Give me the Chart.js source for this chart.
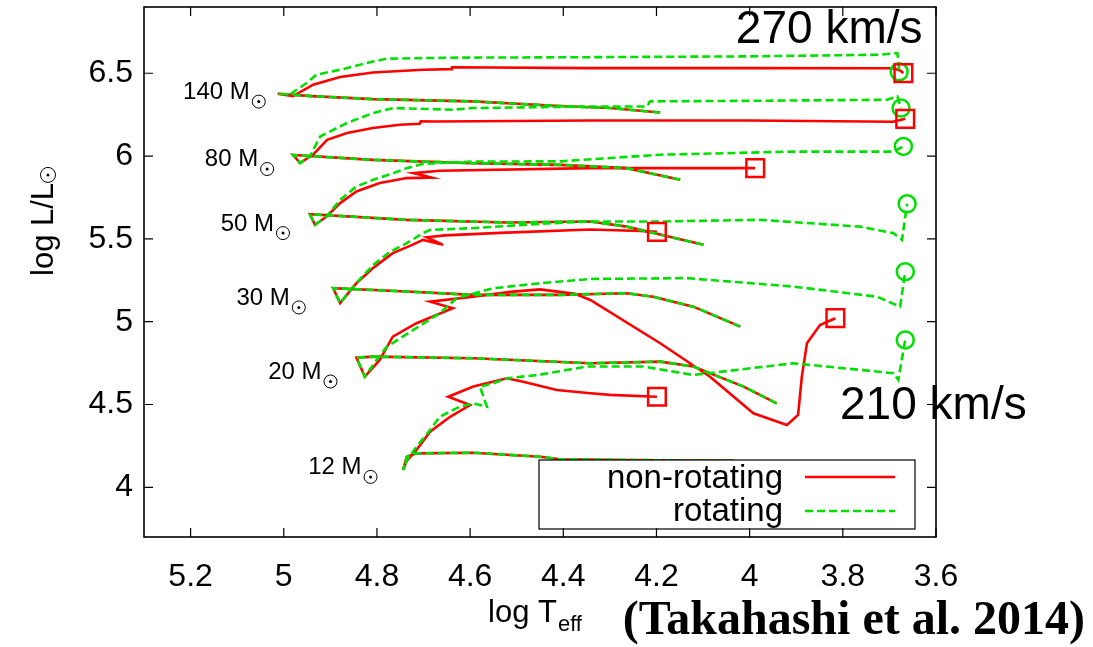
<!DOCTYPE html>
<html>
<head>
<meta charset="utf-8">
<title>HR diagram</title>
<script src="https://cdn.jsdelivr.net/npm/chart.js@4.4.1/dist/chart.umd.min.js"></script>
<style>
  html, body { margin: 0; padding: 0; background: #fff; }
  canvas { display: block; }
</style>
</head>
<body>
<canvas id="hr" width="1093" height="647"></canvas>
<script>
// tick labels
const xTicks = [5.2, 5, 4.8, 4.6, 4.4, 4.2, 4, 3.8, 3.6]
const yTicks = [4, 4.5, 5, 5.5, 6, 6.5]

const masses = ['140', '80', '50', '30', '20', '12']
const seriesNames = ['non-rotating', 'rotating']
const speeds = ['270 km/s', '210 km/s']

// [log Teff, log L]
// contraction branch shared by both models, from its cool end to the ZAMS
const preMS140 = [[4.192, 6.263], [4.300, 6.290], [4.407, 6.302], [4.594, 6.330], [4.809, 6.344], [4.940, 6.362], [5.013, 6.376]]
const preMS80 = [[4.149, 5.857], [4.264, 5.927], [4.407, 5.947], [4.594, 5.957], [4.809, 5.977], [4.980, 6.006]]
const preMS50 = [[4.099, 5.464], [4.264, 5.574], [4.342, 5.605], [4.521, 5.599], [4.736, 5.615], [4.944, 5.649]]
const preMS30 = [[4.020, 4.970], [4.121, 5.091], [4.207, 5.151], [4.264, 5.172], [4.407, 5.162], [4.593, 5.162], [4.736, 5.182], [4.894, 5.202]]
const preMS20 = [[3.942, 4.507], [4.013, 4.608], [4.121, 4.729], [4.192, 4.759], [4.342, 4.749], [4.593, 4.779], [4.808, 4.789], [4.844, 4.783]]
const preMS12 = [[4.035, 4.160], [4.264, 4.165], [4.407, 4.169], [4.450, 4.185], [4.594, 4.209], [4.715, 4.205], [4.736, 4.185], [4.744, 4.104]]

// non-rotating evolution after the ZAMS
const noRot140 = [[4.980, 6.362], [4.937, 6.431], [4.879, 6.477], [4.809, 6.505], [4.701, 6.521], [4.641, 6.525], [4.639, 6.536], [4.342, 6.531], [3.999, 6.531], [3.692, 6.530], [3.677, 6.517], [3.670, 6.501]]
const noRot80 = [[4.965, 5.959], [4.937, 6.008], [4.907, 6.098], [4.864, 6.139], [4.809, 6.169], [4.751, 6.189], [4.708, 6.195], [4.706, 6.210], [4.675, 6.209], [4.342, 6.215], [3.999, 6.215], [3.692, 6.207], [3.666, 6.225]]
const noRot50 = [[4.933, 5.585], [4.908, 5.635], [4.879, 5.716], [4.844, 5.786], [4.794, 5.837], [4.736, 5.867], [4.683, 5.870], [4.722, 5.897], [4.665, 5.911], [4.342, 5.927], [4.014, 5.927], [3.988, 5.927]]
const noRot30 = [[4.879, 5.112], [4.844, 5.232], [4.808, 5.325], [4.766, 5.414], [4.729, 5.458], [4.701, 5.494], [4.658, 5.464], [4.693, 5.510], [4.654, 5.521], [4.536, 5.536], [4.342, 5.557], [4.235, 5.548], [4.199, 5.542]]
const noRot20 = [[4.826, 4.668], [4.794, 4.769], [4.766, 4.910], [4.715, 4.991], [4.637, 5.081], [4.686, 5.121], [4.594, 5.151], [4.514, 5.180], [4.450, 5.195], [4.375, 5.168], [4.342, 5.131], [4.192, 4.870], [4.085, 4.668], [3.992, 4.447], [3.920, 4.376], [3.896, 4.437], [3.888, 4.668], [3.877, 4.870], [3.849, 4.980], [3.816, 5.021]]
const noRot12 = [[4.736, 4.160], [4.715, 4.225], [4.686, 4.336], [4.643, 4.426], [4.600, 4.497], [4.647, 4.547], [4.593, 4.608], [4.521, 4.658], [4.486, 4.638], [4.414, 4.588], [4.342, 4.568], [4.300, 4.558], [4.199, 4.547]]

// rotating evolution after the ZAMS
const rot140 = [[4.987, 6.372], [4.951, 6.441], [4.930, 6.491], [4.879, 6.521], [4.808, 6.571], [4.779, 6.588], [4.643, 6.594], [4.342, 6.597], [3.999, 6.602], [3.720, 6.612], [3.683, 6.622], [3.681, 6.582], [3.679, 6.509]]
const rot80 = [[4.965, 5.957], [4.944, 5.997], [4.922, 6.118], [4.865, 6.199], [4.808, 6.260], [4.765, 6.290], [4.637, 6.280], [4.594, 6.290], [4.342, 6.299], [4.220, 6.299], [4.214, 6.330], [3.977, 6.334], [3.705, 6.340], [3.683, 6.360], [3.675, 6.290]]
const rot50 = [[4.933, 5.585], [4.908, 5.635], [4.879, 5.736], [4.844, 5.816], [4.808, 5.857], [4.765, 5.897], [4.736, 5.927], [4.701, 5.953], [4.594, 5.967], [4.407, 5.968], [4.300, 5.988], [4.192, 6.008], [3.907, 6.027], [3.692, 6.027], [3.670, 6.058]]
const rot30 = [[4.879, 5.112], [4.851, 5.212], [4.808, 5.343], [4.772, 5.422], [4.736, 5.474], [4.701, 5.535], [4.686, 5.554], [4.593, 5.565], [4.450, 5.591], [4.342, 5.605], [4.192, 5.605], [3.977, 5.615], [3.763, 5.574], [3.692, 5.535], [3.673, 5.494], [3.662, 5.712]]
const rot20 = [[4.826, 4.668], [4.801, 4.769], [4.779, 4.849], [4.722, 4.950], [4.665, 5.051], [4.629, 5.142], [4.550, 5.202], [4.450, 5.232], [4.342, 5.258], [4.135, 5.263], [3.906, 5.212], [3.727, 5.151], [3.677, 5.091], [3.666, 5.302]]
const rot12 = [[4.736, 4.165], [4.715, 4.245], [4.686, 4.346], [4.665, 4.426], [4.622, 4.487], [4.594, 4.507], [4.564, 4.487], [4.579, 4.608], [4.550, 4.628], [4.521, 4.658], [4.450, 4.680], [4.350, 4.729], [4.228, 4.729], [4.121, 4.678], [3.906, 4.749], [3.691, 4.689], [3.681, 4.648], [3.666, 4.890]]

// where the mass labels sit: right end of the text and its baseline, in axis units
const massLabelAt = [[5.073, 6.344], [5.055, 5.937], [5.021, 5.550], [4.987, 5.101], [4.919, 4.654], [4.833, 4.078]]

const RED = '#ff0000'
const GREEN = '#00e000'
const SANS = '"Liberation Sans", Arial, Helvetica, sans-serif'
const PLOT_TOP = 7

const preMS = [preMS140, preMS80, preMS50, preMS30, preMS20, preMS12]
const noRot = [noRot140, noRot80, noRot50, noRot30, noRot20, noRot12]
const rot = [rot140, rot80, rot50, rot30, rot20, rot12]

const toXY = arr => arr.map(p => ({ x: p[0], y: p[1] }))
const last = arr => arr[arr.length - 1]

let datasets = []
masses.forEach((m, i) => {
  datasets.push({
    label: seriesNames[0] + ' ' + m,
    data: toXY(preMS[i].concat(noRot[i])),
    showLine: true,
    borderColor: RED,
    borderWidth: 2.6,
    pointRadius: 0,
    order: 2
  })
  datasets.push({
    label: seriesNames[1] + ' ' + m,
    data: toXY(preMS[i].concat(rot[i])),
    showLine: true,
    borderColor: GREEN,
    borderWidth: 2.6,
    borderDash: [8, 4],
    pointRadius: 0,
    order: 1
  })
})
datasets.push({
  label: 'end ' + seriesNames[0],
  data: toXY(noRot.map(last)),
  pointStyle: 'rect',
  pointRadius: 12.5,
  borderColor: RED,
  borderWidth: 2.5,
  backgroundColor: 'rgba(0,0,0,0)',
  order: 0
})
datasets.push({
  label: 'end ' + seriesNames[1],
  data: toXY(rot.map(last)),
  pointStyle: 'circle',
  pointRadius: 8.5,
  borderColor: GREEN,
  borderWidth: 2.5,
  backgroundColor: 'rgba(0,0,0,0)',
  order: 0
})

function drawSun(ctx, cx, cy, r) {
  ctx.beginPath()
  ctx.lineWidth = 1
  ctx.arc(cx, cy, r, 0, Math.PI * 2)
  ctx.stroke()
  ctx.beginPath()
  ctx.arc(cx, cy, 1.5, 0, Math.PI * 2)
  ctx.fill()
}

// pin the top of the plot frame where the original has it
const pinTop = {
  id: 'pinTop',
  afterLayout(chart) {
    const a = chart.chartArea
    const y = chart.scales.y
    a.top = PLOT_TOP
    a.height = a.bottom - a.top
    y.top = PLOT_TOP
    y.height = y.bottom - y.top
    y.configure()
  }
}

const decor = {
  id: 'decor',
  afterDraw(chart) {
    const ctx = chart.ctx
    const a = chart.chartArea
    const x = chart.scales.x
    const y = chart.scales.y
    ctx.save()
    ctx.fillStyle = '#000'
    ctx.strokeStyle = '#000'

    // legend box
    const lx = a.left + 395, ly = a.bottom - 77
    ctx.fillStyle = '#fff'
    ctx.fillRect(lx, ly, 376, 69)
    ctx.lineWidth = 1.2
    ctx.strokeRect(lx, ly, 376, 69)
    ctx.fillStyle = '#000'
    ctx.font = '33px ' + SANS
    ctx.textAlign = 'right'
    ctx.textBaseline = 'alphabetic'
    ctx.fillText(seriesNames[0], a.left + 639, ly + 28)
    ctx.fillText(seriesNames[1], a.left + 639, ly + 61)
    ctx.lineWidth = 2.6
    ctx.strokeStyle = RED
    ctx.beginPath()
    ctx.moveTo(a.left + 661, ly + 17)
    ctx.lineTo(a.left + 751, ly + 17)
    ctx.stroke()
    ctx.strokeStyle = GREEN
    ctx.setLineDash([8, 4])
    ctx.beginPath()
    ctx.moveTo(a.left + 661, ly + 51)
    ctx.lineTo(a.left + 751, ly + 51)
    ctx.stroke()
    ctx.setLineDash([])

    // ticks pointing inwards, on all four sides
    ctx.strokeStyle = '#000'
    ctx.lineWidth = 1.2
    ctx.beginPath()
    xTicks.forEach(v => {
      const px = x.getPixelForValue(v)
      ctx.moveTo(px, a.bottom); ctx.lineTo(px, a.bottom - 9)
      ctx.moveTo(px, a.top); ctx.lineTo(px, a.top + 9)
    })
    yTicks.forEach(v => {
      const py = y.getPixelForValue(v)
      ctx.moveTo(a.left, py); ctx.lineTo(a.left + 9, py)
      ctx.moveTo(a.right, py); ctx.lineTo(a.right - 9, py)
    })
    ctx.stroke()
    ctx.lineWidth = 1.6
    ctx.strokeRect(a.left, a.top, a.right - a.left, a.bottom - a.top)

    // mass labels
    ctx.font = '24px ' + SANS
    ctx.textAlign = 'right'
    massLabelAt.forEach((p, i) => {
      const px = x.getPixelForValue(p[0])
      const py = y.getPixelForValue(p[1])
      ctx.fillText(masses[i] + ' M', px, py)
      drawSun(ctx, px + 9, py + 2.5, 6.5)
    })

    // rotation speeds
    ctx.font = '46px ' + SANS
    ctx.textAlign = 'right'
    ctx.fillText(speeds[0], x.getPixelForValue(3.629), y.getPixelForValue(6.684))
    ctx.textAlign = 'left'
    ctx.fillText(speeds[1], x.getPixelForValue(3.806), y.getPixelForValue(4.413))

    // y title
    ctx.save()
    ctx.translate(53, 276)
    ctx.rotate(-Math.PI / 2)
    ctx.font = '31px ' + SANS
    ctx.textAlign = 'left'
    ctx.fillText('log L/L', 0, 0)
    const w = ctx.measureText('log L/L').width
    drawSun(ctx, w + 8, -5, 7.5)
    ctx.restore()

    // x title
    ctx.font = '31px ' + SANS
    ctx.textAlign = 'left'
    ctx.fillText('log T', 488, 622)
    const wt = ctx.measureText('log T').width
    ctx.font = '22px ' + SANS
    ctx.fillText('eff', 488 + wt + 1, 631)

    ctx.font = 'bold 48px "Liberation Serif", "Times New Roman", serif'
    ctx.textAlign = 'right'
    ctx.fillText('(Takahashi et al. 2014)', 1085, 634)
    ctx.restore()
  }
}

new Chart(document.getElementById('hr'), {
  type: 'scatter',
  data: { datasets: datasets },
  plugins: [pinTop, decor],
  options: {
    responsive: false,
    animation: false,
    devicePixelRatio: 1,
    events: [],
    layout: { padding: { top: 7, right: 157, left: 0, bottom: 0 } },
    plugins: { legend: { display: false }, tooltip: { enabled: false } },
    scales: {
      x: {
        type: 'linear',
        reverse: true,
        min: 3.6,
        max: 5.3,
        afterBuildTicks: s => { s.ticks = xTicks.map(v => ({ value: v })) },
        afterFit: s => {
          s.height = 110
          s.paddingLeft = 0
          s.paddingRight = 0
        },
        grid: { display: false },
        border: { display: false },
        ticks: {
          color: '#000',
          padding: 13,
          maxRotation: 0,
          autoSkip: false,
          font: { family: SANS, size: 32 },
          callback: v => String(v)
        }
      },
      y: {
        type: 'linear',
        min: 3.7,
        max: 6.9,
        afterBuildTicks: s => { s.ticks = yTicks.map(v => ({ value: v })) },
        afterFit: s => {
          s.width = 144
          s.paddingTop = 0
          s.paddingBottom = 0
        },
        grid: { display: false },
        border: { display: false },
        ticks: {
          color: '#000',
          padding: 3,
          autoSkip: false,
          font: { family: SANS, size: 32 },
          callback: v => String(v)
        }
      }
    }
  }
})
</script>
</body>
</html>
